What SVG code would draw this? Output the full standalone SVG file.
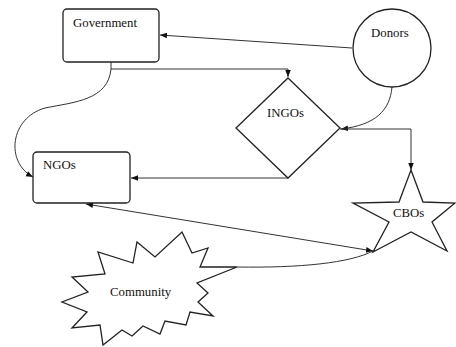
<svg xmlns="http://www.w3.org/2000/svg" width="456" height="347" viewBox="0 0 456 347">
<style>
.shape{fill:#fff;stroke:#222;stroke-width:1.3}
.lbl{font-family:"Liberation Serif","Times New Roman",serif;font-size:12.8px;fill:#111}
.conn{fill:none;stroke:#333;stroke-width:1}
</style>
<defs>
<marker id="ah" markerUnits="userSpaceOnUse" markerWidth="8" markerHeight="8" viewBox="0 0 8 8" refX="7" refY="4" orient="auto-start-reverse">
<path d="M0,1.2 L7,4 L0,6.8 z" fill="#111"/>
</marker>
</defs>
<rect width="456" height="347" fill="#fff"/>
<g id="connectors">
<path class="conn" d="M352,48 L160,35" marker-end="url(#ah)"/>
<path class="conn" d="M111,62 L111,69 L288,69 L288,77" marker-end="url(#ah)"/>
<path class="conn" d="M111,69 C108,100 75,102 45,108 C10,118 5,162 33,177" marker-end="url(#ah)"/>
<path class="conn" d="M288,178 L131,178" marker-end="url(#ah)"/>
<path class="conn" d="M392,87 C390,110 376,125 341,129" marker-end="url(#ah)"/>
<path class="conn" d="M340,129 L411,129 L411,170" marker-end="url(#ah)"/>
<path class="conn" d="M86,204 L373,251" marker-start="url(#ah)" marker-end="url(#ah)"/>
<path class="conn" d="M237,267 C300,268 350,263 373,251"/>
</g>
<g id="government">
<rect class="shape" x="63" y="9" width="96" height="53" rx="4"/>
<text class="lbl" x="73" y="27">Government</text>
</g>
<g id="donors">
<circle class="shape" cx="392" cy="48" r="39"/>
<text class="lbl" x="371" y="37">Donors</text>
</g>
<g id="ingos">
<polygon class="shape" points="288,78 340,128 288,178 236,128"/>
<text class="lbl" x="267" y="117">INGOs</text>
</g>
<g id="ngos">
<rect class="shape" x="33" y="152" width="97" height="51" rx="4"/>
<text class="lbl" x="43" y="169">NGOs</text>
</g>
<g id="cbos">
<polygon class="shape" points="411,170 423,202 455,203 432,222 447,251 411,232 373,252 389,222 353,203 399,202"/>
<text class="lbl" x="393" y="217">CBOs</text>
</g>
<g id="community">
<polygon class="shape" points="182,232 192,253 208,248 200,267 237,267 197,283 208,293 198,302 213,316 190,312 186,325 165,321 160,334 143,326 132,336 122,330 103,345 100,325 72,328 87,312 62,302 88,292 72,277 105,274 98,252 133,263 137,242 155,257"/>
<text class="lbl" x="110" y="296">Community</text>
</g>
</svg>
